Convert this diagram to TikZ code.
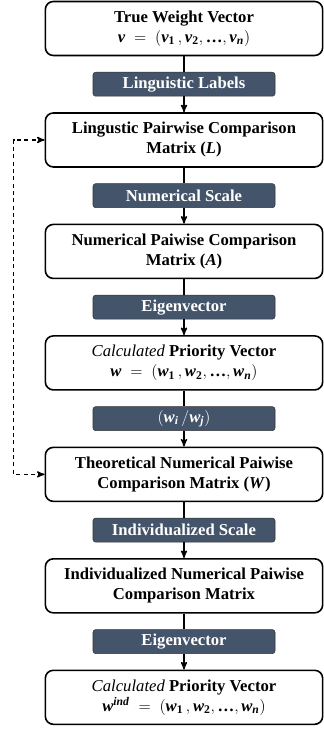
\documentclass[tikz,border=0pt]{standalone}
\usepackage{amsmath}
\usepackage{fontspec}
\setmainfont{Liberation Serif}
\usetikzlibrary{arrows}
\definecolor{slate}{HTML}{44546A}
\newcommand{\bi}[1]{\text{\bfseries\itshape #1}}
\newcommand{\bu}[1]{\text{\bfseries\upshape #1}}

\begin{document}
\begin{tikzpicture}[>=stealth',x=0.75pt,y=-0.75pt,node distance=41.8pt,
  box/.style={draw,line width=1.2pt,rounded corners=6pt,minimum width=208pt,
    minimum height=40.5pt,inner sep=0pt,align=center,
    font=\fontsize{12.5}{15}\selectfont\bfseries},
  tag/.style={draw=black!80,fill=slate,text=white,rounded corners=2pt,
    minimum width=136.5pt,minimum height=18pt,inner sep=0pt,
    font=\fontsize{12.5}{15}\selectfont\bfseries}]

\useasboundingbox (0,0) rectangle (324,731);

% define the boxes and the tags between them
  \node[box] (truevec) at (184,28.5)
{True Weight Vector\\ $\bi{v} \;=\; (\bi{v}_{\bu{1}}\,,\bi{v}_{\bu{2}},\bu{\ldots},\bi{v}_{\bi{n}})$};
  \node[tag] (ling)    [below of=truevec] {Linguistic Labels};
  \node[box] (lmat)    [below of=ling]
{Lingustic Pairwise Comparison\\ Matrix (\textit{L})};
  \node[tag] (nscale)  [below of=lmat] {Numerical Scale};
  \node[box] (amat)    [below of=nscale]
{Numerical Paiwise Comparison\\ Matrix (\textit{A})};
  \node[tag] (eigA)    [below of=amat] {Eigenvector};
  \node[box] (wvec)    [below of=eigA]
{{\mdseries\itshape Calculated} Priority Vector\\ $\bi{w} \;=\; (\bi{w}_{\bu{1}}\,,\bi{w}_{\bu{2}},\bu{\ldots},\bi{w}_{\bi{n}})$};
  \node[tag] (ratio)   [below of=wvec] {$(\bi{w}_{\bi{i}}\,/\bi{w}_{\bi{j}})$};
  \node[box] (wmat)    [below of=ratio]
{Theoretical Numerical Paiwise\\ Comparison Matrix (\textit{W})};
  \node[tag] (iscale)  [below of=wmat] {Individualized Scale};
  \node[box] (imat)    [below of=iscale]
{Individualized Numerical Paiwise\\ Comparison Matrix};
  \node[tag] (eigI)    [below of=imat] {Eigenvector};
  \node[box] (windvec) [below of=eigI]
{{\mdseries\itshape Calculated} Priority Vector\\ $\bi{w}^{\bi{ind}} \;=\; (\bi{w}_{\bu{1}}\,,\bi{w}_{\bu{2}},\bu{\ldots},\bi{w}_{\bi{n}})$};

% define the links
  \path[line width=1pt] (truevec) edge (ling)
        (lmat) edge (nscale)
        (amat) edge (eigA)
        (wvec) edge (ratio)
        (wmat) edge (iscale)
        (imat) edge (eigI);
  \path[line width=1pt,->] (ling) edge (lmat)
        (nscale) edge (amat)
        (eigA) edge (wvec)
        (ratio) edge (wmat)
        (iscale) edge (imat)
        (eigI) edge (windvec);

% feedback loop
  \draw[line width=1pt,dash pattern=on 3pt off 2.5pt,<->] (wmat.west) -- ++(-31,0) |- (lmat.west);

\end{tikzpicture}
\end{document}
